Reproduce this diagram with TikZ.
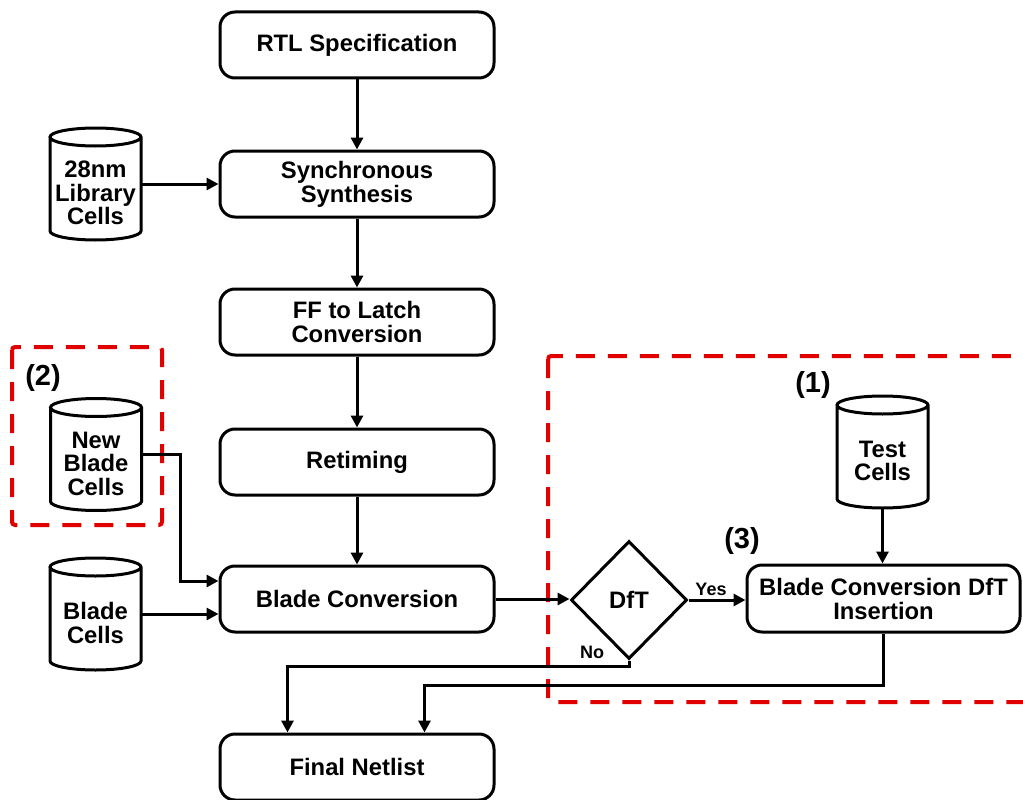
\documentclass[tikz,border=0pt]{standalone}
\usepackage{fontspec}
\setmainfont{Liberation Sans}
\usetikzlibrary{shapes.geometric,arrows.meta,calc}

\definecolor{markred}{RGB}{225,0,0}

\tikzset{
  line/.style={line width=3pt},
  arr/.style={line width=3pt,-{Triangle[length=12pt,width=12pt]}},
  proc/.style={draw,line width=3pt,rounded corners=15pt,minimum width=274pt,
    minimum height=66pt,align=center,inner sep=0pt,
    font=\fontsize{23.8}{24}\selectfont\bfseries},
  cylbox/.style={minimum width=91pt,minimum height=112pt,inner sep=0pt,outer sep=0pt},
  celltext/.style={align=center,inner sep=0pt,font=\fontsize{23.8}{23.5}\selectfont\bfseries},
  decision/.style={draw,diamond,line width=3pt,minimum width=116pt,minimum height=118pt,
    inner sep=0pt,font=\fontsize{23.8}{24}\selectfont\bfseries},
  branch/.style={inner sep=0pt,font=\fontsize{18}{18}\selectfont\bfseries},
  tag/.style={inner sep=0pt,font=\fontsize{29}{29}\selectfont\bfseries},
  region/.style={draw=markred,line width=4pt,dash pattern=on 19pt off 13pt,rounded corners=3pt},
}

% database symbol: name, x, y (downwards), text
\newcommand\cellstore[4]{%
  \node[cylbox] (#1) at (#2,-#3) {};
  \node[celltext] (#1-label) at ($(#1.center)+(0,-9)$) {#4};
  \draw[line] ($(#1.north west)+(0,-9)$) -- ($(#1.south west)+(0,9)$)
    arc[start angle=180,end angle=360,x radius=45.5,y radius=9]
    -- ($(#1.north east)+(0,-9)$)
    arc[start angle=0,end angle=360,x radius=45.5,y radius=9];
}

\begin{document}
\begin{tikzpicture}[x=1pt,y=1pt]
\clip (0,0) rectangle (1023,-800);
\fill[white] (0,0) rectangle (1023,-800);

% highlighted regions
\draw[region] (12,-347) rectangle (162,-525);
\draw[region] (548,-356) rectangle (1045,-702);
\node[tag] (t2) at (43,-378) {(2)};
\node[tag] (t1) at (813,-385) {(1)};
\node[tag] (t3) at (742,-541) {(3)};

% main flow
\node[proc] (rtl) at (357,-45) {RTL Specification};
\node[proc] (syn) at (357,-184) {Synchronous\\Synthesis};
\node[proc] (ff)  at (357,-322) {FF to Latch\\Conversion};
\node[proc] (ret) at (357,-462) {Retiming};
\node[proc] (bc)  at (357,-599) {Blade Conversion};
\node[proc] (fn)  at (357,-767) {Final Netlist};
\node[decision] (dft) at (629,-600) {DfT};
\node[proc,minimum width=273pt,minimum height=67pt] (ins) at (883.5,-598.5)
  {Blade Conversion DfT\\Insertion};

% cell libraries
\cellstore{lib}{95.5}{184}{28nm\\Library\\Cells}
\cellstore{nbc}{96}{454.5}{New\\Blade\\Cells}
\cellstore{bcl}{95.5}{614}{Blade\\Cells}
\cellstore{tc}{882.5}{452}{Test\\Cells}

% connectors
\draw[arr] (rtl) -- (syn);
\draw[arr] (syn) -- (ff);
\draw[arr] (ff) -- (ret);
\draw[arr] (ret) -- (bc);
\draw[arr] (lib.east) -- (lib.east -| syn.west);
\draw[arr] (nbc.east) -- ++(39,0) |- ($(bc.west)+(0,18)$);
\draw[arr] (bcl.east) -- (bcl.east -| bc.west);
\draw[arr] (bc.east) -- (bc.east -| dft.west);
\draw[arr] (dft.east) -- (dft.east -| ins.west);
\draw[arr] (tc.south) -- (tc.south |- ins.north);
\draw[arr] (dft.south) -- ++(0,-6) -| ($(fn.north west)+(69,0)$);
\draw[arr] (ins.south) -- ++(0,-52) -| ($(fn.north west)+(206,0)$);

\node[branch] (yes) at (711,-589) {Yes};
\node[branch] (no) at (592,-652) {No};
\end{tikzpicture}
\end{document}
